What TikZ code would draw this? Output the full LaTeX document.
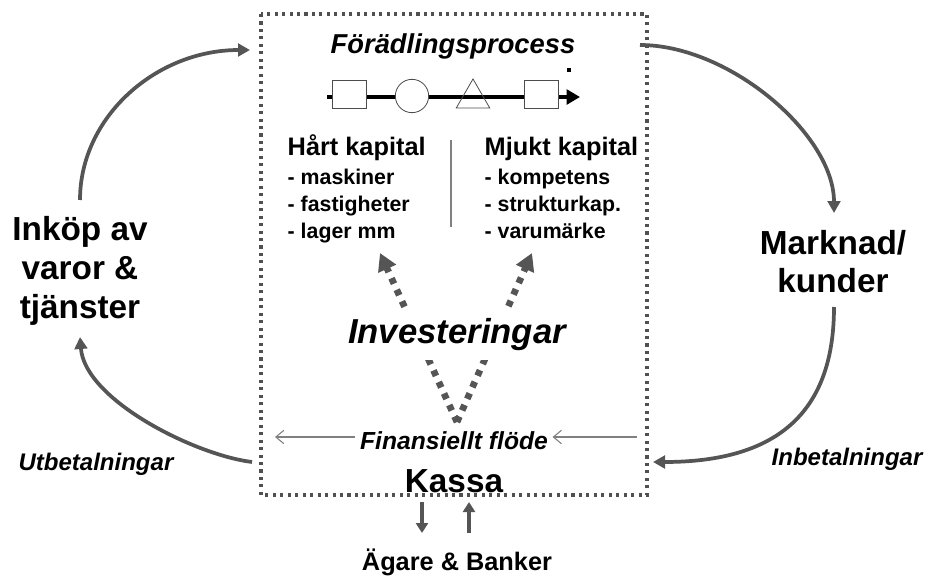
\documentclass[tikz,border=0pt]{standalone}
\usepackage{fontspec}
\setmainfont{Liberation Sans}
\usetikzlibrary{arrows.meta, positioning, shapes.geometric}
\usepackage{xcolor}
\definecolor{arcgray}{RGB}{85,85,85}
\definecolor{framegray}{RGB}{80,80,80}

\begin{document}
\begin{tikzpicture}[x=0.75pt, y=-0.75pt,
    frame/.style={draw=framegray, line width=2.3pt, dash pattern=on 2.3pt off 3.3pt},
    flow/.style={draw=arcgray, line width=2.8pt, -{Triangle[length=9pt,width=9.5pt]}},
    invest/.style={draw=arcgray, line width=5pt, dash pattern=on 4.5pt off 5pt, -{Triangle[length=13pt,width=14pt]}},
    thinflow/.style={draw=gray, line width=0.8pt, -{Straight Barb[length=6pt,width=10pt]}},
    ownerflow/.style={draw=arcgray, line width=3pt, -{Triangle[length=7.5pt,width=9pt]}},
    stepbox/.style={draw=black!70, line width=0.6pt, fill=white, minimum width=26pt, minimum height=21pt, inner sep=0pt},
    bigtext/.style={font=\fontsize{25}{29}\selectfont\bfseries, align=center},
    headtext/.style={font=\fontsize{20.5}{24}\selectfont\bfseries\itshape},
    kaphead/.style={font=\fontsize{19}{23}\selectfont\bfseries},
    kapitem/.style={font=\fontsize{16}{19}\selectfont\bfseries},
    flowtext/.style={font=\fontsize{18}{22}\selectfont\bfseries\itshape}]
    \useasboundingbox (0,0) rectangle (929,578);

    % fabriken
    \draw[frame] (261,14) rectangle (647,495);

    % foradlingsprocessen
    \node[headtext, anchor=base] (proc) at (453,53) {Förädlingsprocess};
    \coordinate (pstart) at (327,97);
    \coordinate (pend) at (580,97);
    \draw[line width=3.2pt, -{Triangle[length=10pt,width=11pt]}] (pstart) -- (pend);
    \node[stepbox] (step1) at (349.5,94) {};
    \node[stepbox, circle, minimum size=25pt] (step2) at (412,96) {};
    \node[draw=black!70, line width=0.6pt, regular polygon, regular polygon sides=3, minimum size=29pt, inner sep=0pt] (step3) at (473,98.3) {};
    \node[stepbox] (step4) at (541.5,94) {};
    \node[fill=black, inner sep=0pt, minimum size=2.4pt] (pdot) at (569,70) {};

    % kapital
    \node[kaphead, anchor=base west] (hard) at (283,155) {Hårt kapital};
    \node[kapitem, anchor=base west] (hard1) at (283,184) {- maskiner};
    \node[kapitem, anchor=base west] (hard2) at (283,211) {- fastigheter};
    \node[kapitem, anchor=base west] (hard3) at (283,238) {- lager mm};

    \node[kaphead, anchor=base west] (soft) at (480,155) {Mjukt kapital};
    \node[kapitem, anchor=base west] (soft1) at (480,184) {- kompetens};
    \node[kapitem, anchor=base west] (soft2) at (480,211) {- strukturkap.};
    \node[kapitem, anchor=base west] (soft3) at (480,238) {- varumärke};

    \coordinate (septop) at (451,140);
    \coordinate (sepbot) at (451,227);
    \draw[gray, line width=1.2pt] (septop) -- (sepbot);

    % investeringar
    \coordinate (vbot) at (457,422);
    \coordinate (hardtip) at (380,253);
    \coordinate (softtip) at (532,253);
    \draw[invest] (vbot) -- (hardtip);
    \draw[invest] (vbot) -- (softtip);
    \node[font=\fontsize{26}{30}\selectfont\bfseries\itshape, fill=white, inner xsep=4pt, inner ysep=7pt, anchor=base] (invest) at (457,343) {Investeringar};

    % kassa
    \node[font=\fontsize{18.5}{22}\selectfont\bfseries\itshape, anchor=base] (finans) at (454,449) {Finansiellt flöde};
    \coordinate (finL) at (275,437);
    \coordinate (finR) at (637,437);
    \draw[thinflow] (finans.west |- finL) -- (finL);
    \draw[thinflow] (finR) -- (finans.east |- finR);
    \node[font=\fontsize{25}{30}\selectfont\bfseries, anchor=base] (kassa) at (454,492) {Kassa};

    \node[font=\fontsize{19}{23}\selectfont\bfseries, anchor=base] (owners) at (457,570) {Ägare \& Banker};
    \coordinate (kout) at (422,502);
    \coordinate (kin) at (469,533);
    \draw[ownerflow] (kout) -- (kout |- kin);
    \draw[ownerflow] (kin) -- (kin |- kout);

    % inkop och marknad
    \node[bigtext] (inkop) at (80,271) {Inköp av\\varor \&\\tjänster};
    \node[bigtext] (market) at (833,261.5) {Marknad/\\kunder};
    \node[flowtext, anchor=base] (utbet) at (96,470) {Utbetalningar};
    \node[flowtext, anchor=base] (inbet) at (847,465) {Inbetalningar};

    \coordinate (buyout) at (80,200);
    \coordinate (boxinL) at (250,50);
    \coordinate (boxoutL) at (252,462);
    \coordinate (buyin) at (80,337);
    \coordinate (boxoutR) at (640,45);
    \coordinate (marketin) at (834,213);
    \coordinate (marketout) at (834,307);
    \coordinate (boxinR) at (653,462);
    \draw[flow] (buyout) .. controls (80,117) and (156,50) .. (boxinL);
    \draw[flow] (boxoutL) .. controls (195,455) and (85,400) .. (buyin);
    \draw[flow] (boxoutR) .. controls (730,45) and (834,135) .. (marketin);
    \draw[flow] (marketout) .. controls (834,410) and (780,462) .. (boxinR);
\end{tikzpicture}
\end{document}
